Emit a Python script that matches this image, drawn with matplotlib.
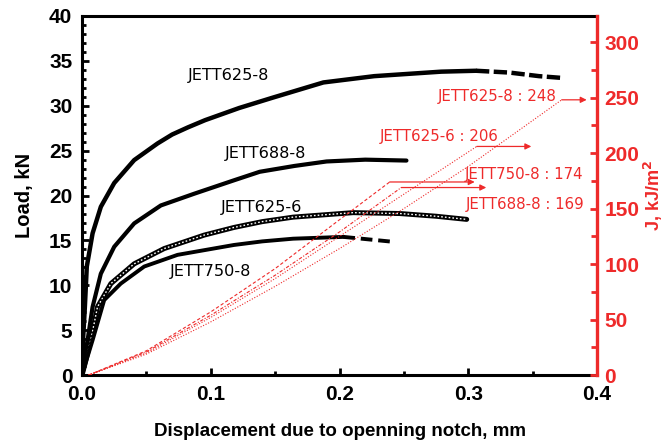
import numpy as np
import matplotlib
matplotlib.use('Agg')
import matplotlib.pyplot as plt
from matplotlib.ticker import MultipleLocator

# load - displacement curves (mm, kN)
x_625_8 = [0, 0.0008, 0.0022, 0.0037, 0.0082, 0.0146, 0.025, 0.0405, 0.0586, 0.070, 0.0823, 0.0956, 0.122, 0.148, 0.1875, 0.227, 0.279, 0.306]
y_625_8 = [0, 4.0, 7.6, 12.1, 15.8, 18.75, 21.4, 23.95, 25.8, 26.8, 27.6, 28.4, 29.75, 30.9, 32.6, 33.3, 33.8, 33.9]
x_625_8_tail = [0.306, 0.332, 0.355, 0.373]
y_625_8_tail = [33.9, 33.7, 33.3, 33.1]

x_688_8 = [0, 0.0015, 0.0043, 0.0082, 0.0146, 0.025, 0.0405, 0.0612, 0.087, 0.118, 0.138, 0.165, 0.190, 0.220, 0.252]
y_688_8 = [0, 1.5, 3.9, 7.6, 11.3, 14.3, 16.9, 18.9, 20.2, 21.7, 22.65, 23.3, 23.8, 24.0, 23.9]

x_625_6 = [0, 0.002, 0.0068, 0.012, 0.0224, 0.0405, 0.0638, 0.0949, 0.118, 0.140, 0.164, 0.2106, 0.247, 0.275, 0.2988]
y_625_6 = [0, 1.1, 3.9, 7.6, 10.2, 12.4, 14.1, 15.6, 16.45, 17.1, 17.6, 18.1, 18.0, 17.7, 17.35]

x_750_8 = [0, 0.002, 0.0082, 0.0172, 0.0301, 0.0483, 0.0742, 0.118, 0.140, 0.164, 0.203]
y_750_8 = [0, 1.0, 3.9, 8.36, 10.2, 12.1, 13.4, 14.5, 14.9, 15.2, 15.4]
x_750_8_tail = [0.203, 0.2418]
y_750_8_tail = [15.4, 14.85]

# J integral curves (mm, kJ/m2)
jx_625_8 = [0.005, 0.05, 0.10, 0.15, 0.20, 0.25, 0.30, 0.3726]
jy_625_8 = [0, 19, 48, 80, 114, 150, 188, 248]
jx_625_6 = [0.005, 0.05, 0.10, 0.15, 0.20, 0.25, 0.3066]
jy_625_6 = [0, 20, 52, 87, 125, 163, 206]
jx_688_8 = [0.005, 0.05, 0.10, 0.15, 0.20, 0.248]
jy_688_8 = [0, 21, 54, 90, 129, 169]
jx_750_8 = [0.005, 0.05, 0.10, 0.15, 0.20, 0.239]
jy_750_8 = [0, 22, 57, 96, 140, 174]

# arrow tips (mm) for the J labels
arrow_end = {'625-8': 0.392, '625-6': 0.349, '750-8': 0.305, '688-8': 0.314}

red = '#ee2a2a'
plt.rcParams['font.family'] = ['Liberation Sans', 'DejaVu Sans']

fig = plt.figure(figsize=(6.67, 4.44), dpi=100)
ax = fig.add_axes([0.123, 0.155, 0.772, 0.809])
ax2 = ax.twinx()

# load curves
ax.plot(x_625_8, y_625_8, color='black', lw=3.2, solid_capstyle='round')
ax.plot(x_625_8_tail, y_625_8_tail, color='black', lw=3.2, ls=(0, (3, 1)))
ax.plot(x_688_8, y_688_8, color='black', lw=3.0, solid_capstyle='round')
ax.plot(x_625_6, y_625_6, color='black', lw=3.6, solid_capstyle='round')
ax.plot(x_625_6, y_625_6, color='white', lw=1.0, ls=(0, (1.2, 1.5)))
ax.plot(x_750_8, y_750_8, color='black', lw=2.8, solid_capstyle='round')
ax.plot(x_750_8_tail, y_750_8_tail, color='black', lw=2.8, ls=(0, (3, 1.5)))

# J curves
ax2.plot(jx_625_8, jy_625_8, color=red, lw=0.8, ls=(0, (1, 1.5)))
ax2.plot(jx_625_6, jy_625_6, color=red, lw=0.8, ls=(0, (1, 1.5)))
ax2.plot(jx_688_8, jy_688_8, color=red, lw=0.8, ls=(0, (3, 1.5, 1, 1.5)))
ax2.plot(jx_750_8, jy_750_8, color=red, lw=0.8, ls=(0, (3, 2)))

for xs, ys, key in [(jx_625_8, jy_625_8, '625-8'), (jx_625_6, jy_625_6, '625-6'),
                    (jx_688_8, jy_688_8, '688-8'), (jx_750_8, jy_750_8, '750-8')]:
    ax2.annotate('', xy=(arrow_end[key], ys[-1]), xytext=(xs[-1], ys[-1]),
                 arrowprops=dict(arrowstyle='-|>', color=red, lw=0.9,
                                 mutation_scale=9, shrinkA=0, shrinkB=0))

lab_r = dict(family='DejaVu Sans', fontsize=10.8, va='center', color=red)
ax.text(0.2765, 31.0, 'JETT625-8 : 248', **lab_r)
ax.text(0.2315, 26.6, 'JETT625-6 : 206', **lab_r)
ax.text(0.2975, 22.4, 'JETT750-8 : 174', **lab_r)
ax.text(0.298, 19.05, 'JETT688-8 : 169', **lab_r)

lab_k = dict(family='DejaVu Sans', fontsize=11.6, va='center', color='black')
ax.text(0.0823, 33.4, 'JETT625-8', **lab_k)
ax.text(0.111, 24.7, 'JETT688-8', **lab_k)
ax.text(0.108, 18.7, 'JETT625-6', **lab_k)
ax.text(0.068, 11.5, 'JETT750-8', **lab_k)

ax.set_xlim(0, 0.4)
ax.set_ylim(0, 40)
ax2.set_ylim(0, 323.5)

ax.xaxis.set_major_locator(MultipleLocator(0.1))
ax.xaxis.set_minor_locator(MultipleLocator(0.05))
ax.yaxis.set_major_locator(MultipleLocator(5))
ax.yaxis.set_minor_locator(MultipleLocator(1))
ax2.yaxis.set_major_locator(MultipleLocator(50))
ax2.yaxis.set_minor_locator(MultipleLocator(25))

ax.tick_params(which='both', direction='in', width=2, top=False, right=False)
ax.tick_params(which='major', length=5, labelsize=15)
ax.tick_params(which='minor', length=3)
ax.tick_params(axis='y', pad=7)
ax.tick_params(axis='x', pad=7)
ax2.tick_params(which='both', direction='in', width=2, color=red, labelcolor=red)
ax2.tick_params(which='major', length=5, labelsize=15, pad=5.5)
ax2.tick_params(which='minor', length=4)

for t in ax.get_xticklabels() + ax.get_yticklabels() + ax2.get_yticklabels():
    t.set_fontweight('bold')

ax.xaxis.set_major_formatter(plt.FuncFormatter(lambda v, p: '%.1f' % v))

for s in ['left', 'bottom', 'top']:
    ax.spines[s].set_linewidth(2.2)
ax.spines['right'].set_visible(False)
for s in ['left', 'bottom', 'top']:
    ax2.spines[s].set_visible(False)
ax2.spines['right'].set_linewidth(2.4)
ax2.spines['right'].set_color(red)

ax.set_xlabel('Displacement due to openning notch, mm', fontsize=13.5, fontweight='bold')
ax.set_ylabel('Load, kN', fontsize=14.5, fontweight='bold')
ax2.set_ylabel('J, kJ/m$^\\mathbf{2}$', fontsize=13, fontweight='bold', color=red)
ax.xaxis.set_label_coords(0.5, -0.133)
ax.yaxis.set_label_coords(-0.093, 0.5)
ax2.yaxis.set_label_coords(1.087, 0.5)

fig.savefig('out.png', dpi=100)
